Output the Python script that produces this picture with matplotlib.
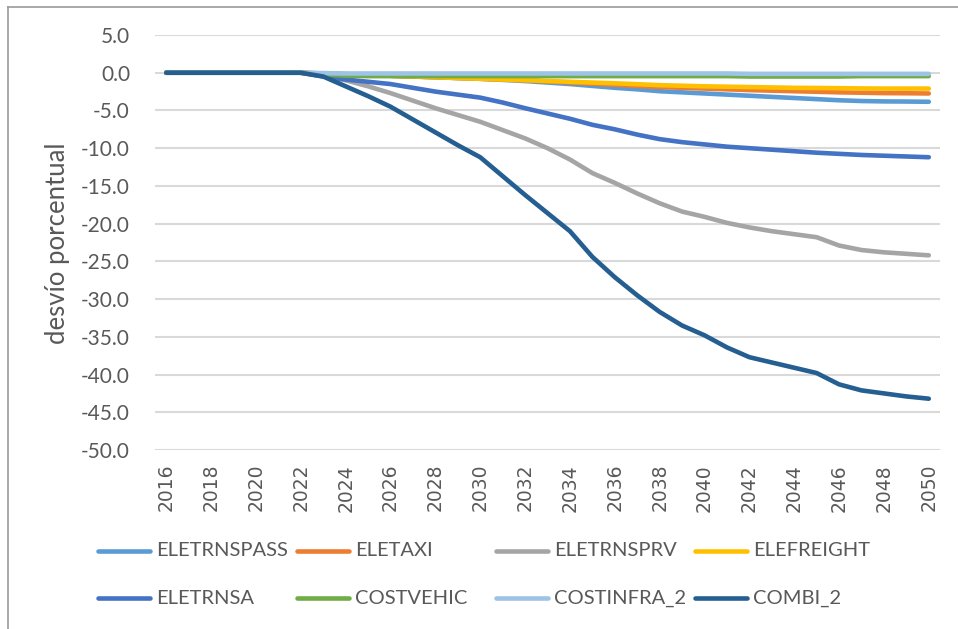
import matplotlib
matplotlib.use("Agg")
import matplotlib.pyplot as plt
from matplotlib.lines import Line2D

years = list(range(2016, 2051))

eletrnspass = [0, 0, 0, 0, 0, 0, 0, -0.1, -0.2, -0.3, -0.4, -0.5, -0.6, -0.7, -0.8,
               -0.95, -1.1, -1.3, -1.5, -1.75, -2.0, -2.2, -2.45, -2.6, -2.75, -2.9,
               -3.05, -3.2, -3.35, -3.5, -3.65, -3.75, -3.8, -3.82, -3.85]
eletaxi = [0, 0, 0, 0, 0, 0, 0, -0.1, -0.2, -0.3, -0.4, -0.5, -0.6, -0.7, -0.8,
           -0.9, -1.0, -1.15, -1.3, -1.45, -1.6, -1.75, -1.9, -2.0, -2.1, -2.2,
           -2.3, -2.38, -2.45, -2.52, -2.6, -2.65, -2.7, -2.72, -2.75]
eletrnsprv = [0, 0, 0, 0, 0, 0, 0, -0.4, -1.0, -1.8, -2.7, -3.7, -4.7, -5.6, -6.5,
              -7.6, -8.7, -10.0, -11.5, -13.3, -14.6, -16.0, -17.3, -18.4, -19.1, -19.9,
              -20.5, -21.0, -21.4, -21.8, -22.9, -23.5, -23.8, -24.0, -24.2]
elefreight = [0, 0, 0, 0, 0, 0, 0, -0.15, -0.3, -0.35, -0.4, -0.5, -0.6, -0.7, -0.8,
              -0.9, -1.0, -1.1, -1.2, -1.3, -1.4, -1.52, -1.65, -1.72, -1.8, -1.85,
              -1.9, -1.95, -2.0, -2.02, -2.05, -2.08, -2.1, -2.1, -2.1]
eletrnsa = [0, 0, 0, 0, 0, 0, 0, -0.5, -0.9, -1.2, -1.5, -2.0, -2.5, -2.9, -3.3,
            -3.95, -4.7, -5.4, -6.1, -6.9, -7.5, -8.2, -8.8, -9.2, -9.5, -9.8,
            -10.0, -10.2, -10.4, -10.6, -10.75, -10.9, -11.0, -11.1, -11.2]
costvehic = [0, 0, 0, 0, 0, 0, 0, -0.2, -0.4, -0.45, -0.45, -0.45, -0.45, -0.45, -0.45,
             -0.45, -0.45, -0.45, -0.45, -0.45, -0.45, -0.45, -0.45, -0.45, -0.45, -0.45,
             -0.5, -0.5, -0.5, -0.5, -0.5, -0.45, -0.45, -0.45, -0.45]
costinfra_2 = [0, 0, 0, 0, 0, 0, 0, -0.05, -0.1, -0.1, -0.1, -0.1, -0.1, -0.1, -0.1,
               -0.1, -0.1, -0.1, -0.1, -0.1, -0.1, -0.1, -0.1, -0.1, -0.1, -0.1,
               -0.15, -0.15, -0.15, -0.15, -0.15, -0.15, -0.15, -0.15, -0.15]
combi_2 = [0, 0, 0, 0, 0, 0, 0, -0.5, -1.8, -3.1, -4.5, -6.2, -7.9, -9.6, -11.2,
           -13.7, -16.2, -18.6, -21.0, -24.4, -27.1, -29.5, -31.7, -33.5, -34.8, -36.4,
           -37.7, -38.4, -39.1, -39.8, -41.3, -42.1, -42.5, -42.9, -43.2]

names = ["ELETRNSPASS", "ELETAXI", "ELETRNSPRV", "ELEFREIGHT",
         "ELETRNSA", "COSTVEHIC", "COSTINFRA_2", "COMBI_2"]
series = [eletrnspass, eletaxi, eletrnsprv, elefreight,
          eletrnsa, costvehic, costinfra_2, combi_2]
colors = ["#5B9BD5", "#ED7D31", "#A5A5A5", "#FFC000",
          "#4472C4", "#70AD47", "#9DC3E6", "#255E91"]

yticks = [5, 0, -5, -10, -15, -20, -25, -30, -35, -40, -45, -50]
xtick_years = list(range(2016, 2051, 2))

W, H = 958, 629
fig = plt.figure(figsize=(W / 100, H / 100), dpi=100)
ax = fig.add_axes([155 / W, 1 - 450 / H, 785 / W, 415 / H])

lw = 3.3
for s, c in zip(series, colors):
    ax.plot(years, s, color=c, lw=lw, solid_capstyle="round",
            solid_joinstyle="round", zorder=3)

ax.set_xlim(2015.5, 2050.5)
ax.set_ylim(-50, 5)
ax.set_yticks(yticks)
ax.set_yticklabels([f"{v:.1f}" for v in yticks], fontfamily="Lato",
                   fontsize=15, color="#595959")
ax.set_xticks(xtick_years)
ax.set_xticklabels([str(y) for y in xtick_years], rotation=90,
                   fontfamily="DejaVu Sans", fontsize=13.5, color="#595959")
ax.tick_params(axis="both", length=0)
ax.tick_params(axis="y", pad=18)
ax.tick_params(axis="x", pad=10)
ax.grid(axis="y", color="#D9D9D9", lw=1.5, zorder=0)
for sp in ax.spines.values():
    sp.set_visible(False)

fig.text(58 / W, 1 - 243 / H, "desvío porcentual", rotation=90,
         ha="center", va="center", fontfamily="Lato", fontsize=18.5,
         color="#595959")

# legend: 2 rows x 4 equal-width columns, filled row by row
for i, (name, c) in enumerate(zip(names, colors)):
    row, col = divmod(i, 4)
    x0 = 98 + col * 199
    y0 = 551 + row * 47
    fig.add_artist(Line2D([x0 / W, (x0 + 52) / W], [1 - y0 / H, 1 - y0 / H],
                          color=c, lw=lw, solid_capstyle="round",
                          transform=fig.transFigure))
    fig.text((x0 + 58) / W, 1 - y0 / H, name, ha="left", va="center",
             fontfamily="Lato", fontsize=14.5, color="#595959")

# frame border (left and top)
fig.add_artist(Line2D([8 / W, 8 / W], [0, 1 - 7 / H], color="#9A9A9A",
                      lw=1.2, transform=fig.transFigure))
fig.add_artist(Line2D([8 / W, 1], [1 - 7 / H, 1 - 7 / H], color="#9A9A9A",
                      lw=1.2, transform=fig.transFigure))

fig.savefig("out.png", dpi=100)
